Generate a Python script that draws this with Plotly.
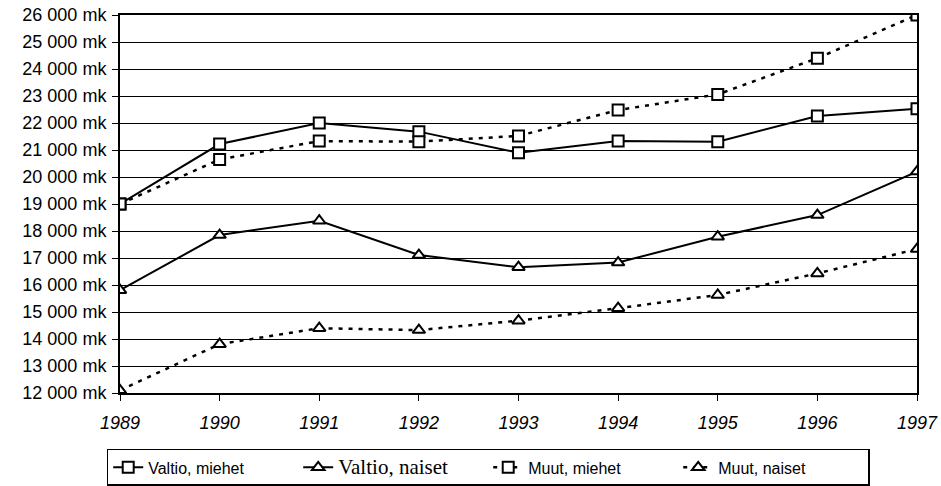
import plotly.graph_objects as go

years = [1989, 1990, 1991, 1992, 1993, 1994, 1995, 1996, 1997]
valtio_miehet = [19000, 21220, 22000, 21680, 20900, 21330, 21310, 22260, 22530]
valtio_naiset = [15810, 17850, 18380, 17110, 16660, 16830, 17790, 18590, 20200]
muut_miehet = [19000, 20650, 21330, 21310, 21520, 22480, 23060, 24400, 26000]
muut_naiset = [12100, 13810, 14400, 14330, 14680, 15140, 15630, 16430, 17330]
y_ticks = list(range(12000, 26001, 1000))
y_tick_labels = [f"{v // 1000} 000 mk" for v in y_ticks]

fig = go.Figure()
common_marker = dict(size=11, color="white", line=dict(color="black", width=2))

fig.add_trace(go.Scatter(x=years, y=valtio_miehet, mode="lines+markers",
                         name="Valtio, miehet",
                         line=dict(color="black", width=2),
                         marker=dict(symbol="square", **common_marker)))
fig.add_trace(go.Scatter(x=years, y=valtio_naiset, mode="lines+markers",
                         name='<span style="font-family:Liberation Serif, Times New Roman, serif;font-size:21px">Valtio, naiset</span>',
                         line=dict(color="black", width=2),
                         marker=dict(symbol="triangle-up", **common_marker)))
fig.add_trace(go.Scatter(x=years, y=muut_miehet, mode="lines+markers",
                         name="Muut, miehet",
                         line=dict(color="black", width=2.5, dash="4px,6px"),
                         marker=dict(symbol="square", **common_marker)))
fig.add_trace(go.Scatter(x=years, y=muut_naiset, mode="lines+markers",
                         name="Muut, naiset",
                         line=dict(color="black", width=2.5, dash="4px,6px"),
                         marker=dict(symbol="triangle-up", **common_marker)))

fig.update_layout(
    width=941, height=486,
    margin=dict(l=120, r=24, t=15, b=93, autoexpand=False),
    paper_bgcolor="white", plot_bgcolor="white",
    font=dict(family="Liberation Sans, Arial, sans-serif", color="black", size=17),
    showlegend=True,
    legend=dict(orientation="h", x=0.462, xanchor="center", y=-0.148, yanchor="top",
                bordercolor="black", borderwidth=1.5, bgcolor="white",
                font=dict(size=16, family="Liberation Sans, Arial, sans-serif"),
                entrywidth=145, tracegroupgap=0),
    xaxis=dict(range=[1989, 1997], tickvals=years, ticktext=[f"<i>{y}</i>" for y in years],
               showgrid=False, zeroline=False, showline=True, linecolor="black", linewidth=2,
               mirror=True, ticks="outside", ticklen=6, tickcolor="black", tickwidth=1,
               ticklabelstandoff=6, automargin=False, ticklabeloverflow="allow",
               tickfont=dict(size=18)),
    yaxis=dict(range=[12000, 26000], tickvals=y_ticks, ticktext=y_tick_labels,
               showgrid=True, gridcolor="black", gridwidth=1.2, zeroline=False,
               showline=True, linecolor="black", linewidth=2, mirror=True,
               ticks="outside", ticklen=6, tickcolor="black", tickwidth=1,
               ticklabelstandoff=2, automargin=False, ticklabeloverflow="allow",
               tickfont=dict(size=18)),
)

fig.write_html("out.html", config={"displayModeBar": False},
               post_script="document.body.style.margin='0';document.body.style.overflow='hidden';")
